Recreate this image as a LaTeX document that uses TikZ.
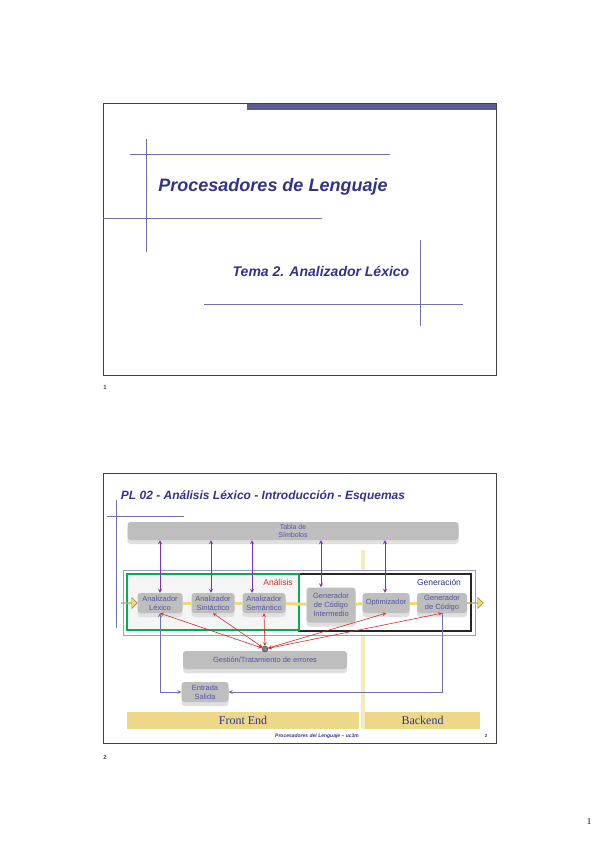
\documentclass[tikz,border=0pt]{standalone}
\usepackage{fontspec}
\setmainfont{Liberation Sans}
\newfontfamily\serifbar{Liberation Serif}
\usetikzlibrary{arrows, shapes.arrows, shadows}
\definecolor{slide}{RGB}{51,51,140}
\definecolor{lineas}{RGB}{112,112,176}
\definecolor{barra}{RGB}{92,92,142}
\definecolor{boxgray}{RGB}{190,190,190}
\definecolor{boxtext}{RGB}{84,84,160}
\definecolor{violeta}{RGB}{120,50,180}
\definecolor{flecha}{RGB}{240,216,120}
\definecolor{crema}{RGB}{236,216,136}
\definecolor{rojo}{RGB}{220,40,40}
\definecolor{verde}{RGB}{0,176,80}
\tikzstyle{arrow} = [thick,->,>=stealth]

\begin{document}
\begin{tikzpicture}
        [
            x=1pt, y=-1pt,
            frame/.style={draw=black!75, line width=1pt},
            decoline/.style={draw=lineas, line width=0.9pt},
            proc/.style={rectangle, rounded corners=3pt, fill=boxgray, text=boxtext, align=center,
                font=\fontsize{7.5}{8.8}\selectfont, inner sep=1pt,
                drop shadow={shadow xshift=0pt, shadow yshift=-4pt, fill=boxgray!50, opacity=1}},
            tsim/.style={violeta, thick, <->, >=stealth},
            errarrow/.style={rojo, line width=0.6pt, <->, >=stealth},
            esarrow/.style={lineas, line width=0.8pt, ->, >=stealth},
            flowline/.style={flecha, line width=3pt},
            flowarrow/.style={single arrow, fill=flecha, draw=flecha!60!black, thin,
                minimum height=16, minimum width=11, single arrow head extend=2pt, inner sep=0pt},
            bandlabel/.style={fill=crema, text=slide, font=\serifbar\fontsize{12}{14}\selectfont,
                minimum height=17, inner sep=0pt},
        ]

    \fill[white] (0,0) rectangle (599,848);
    \useasboundingbox (0,0) rectangle (599,848);

    % slide 1
    \draw[frame] (103,104) rectangle (496,375);
    \fill[barra] (247,104) rectangle (496,110);
    \draw[decoline] (130,154) -- (390,154);
    \draw[decoline] (146,139) -- (146,252);
    \draw[decoline] (103,218) -- (322,218);
    \draw[decoline] (420,240) -- (420,326);
    \draw[decoline] (204,304) -- (463,304);
    \node[text=slide, font=\bfseries\itshape\fontsize{18}{20}\selectfont] (titulo) at (273,187) {Procesadores de Lenguaje};
    \node[text=slide, font=\bfseries\itshape\fontsize{14}{16}\selectfont] (tema) at (321,271) {Tema 2. Analizador Léxico};
    \node[font=\bfseries\fontsize{6}{7}\selectfont, text=black!70] (num1) at (105,387) {1};

    % slide 2
    \draw[frame] (103,473) rectangle (496,743);
    \draw[decoline] (116,500) -- (116,628);
    \draw[decoline] (107,516) -- (184,516);
    \node[text=slide, font=\bfseries\itshape\fontsize{12}{14}\selectfont] (titulo2) at (263,496) {PL 02 - Análisis Léxico - Introducción - Esquemas};

    \fill[crema!55] (361,550) rectangle (365,729);
    \draw[lineas!70, fill=white] (123,570) rectangle (475,635);
    \draw[black!85, line width=1.8pt] (299,574) rectangle (471,631);
    \draw[verde, line width=1.8pt, fill=black!4] (127,574) rectangle (299,630);
    \node[text=rojo, font=\fontsize{8.5}{10}\selectfont] (analisis) at (278,582) {Análisis};
    \node[fill=white, text=slide, font=\fontsize{8.5}{10}\selectfont, inner sep=1.5pt] (generacion) at (439,582) {Generación};

    \node[proc, minimum width=331, minimum height=18, font=\fontsize{7}{8}\selectfont] (tabla) at (293,531) {Tabla de\\Símbolos};

    \node[proc, minimum width=45, minimum height=20] (lex) at (160,603) {Analizador\\Léxico};
    \node[proc, minimum width=43, minimum height=20] (sin) at (213,603) {Analizador\\Sintáctico};
    \node[proc, minimum width=43, minimum height=20] (sem) at (264,603) {Analizador\\Semántico};
    \node[proc, minimum width=49, minimum height=35] (inter) at (331,605) {Generador\\de Código\\Intermedio};
    \node[proc, minimum width=47, minimum height=20] (opt) at (386,603) {Optimizador};
    \node[proc, minimum width=50, minimum height=20] (gc) at (442,603) {Generador\\de Código};

    \node[flowarrow] (in) at (129,603) {};
    \node[flowarrow] (out) at (475,603) {};
    \draw[flowline] (lex) -- (sin);
    \draw[flowline] (sin) -- (sem);
    \draw[flowline] (sem) -- (inter);
    \draw[flowline] (inter) -- (opt);
    \draw[flowline] (opt) -- (gc);

    \foreach \n/\dx in {lex/0, sin/-2, sem/-12, inter/-10, opt/-1}
        \draw[tsim] ([xshift=\dx pt]\n.north |- tabla.south) -- ([xshift=\dx pt]\n.north);

    \node[proc, minimum width=164, minimum height=18] (gestion) at (265,660) {Gestión/Tratamiento de errores};
    \node[circle, fill=gray, draw=gray!50!black, inner sep=0pt, minimum size=6] (err) at (265,649) {};
    \foreach \n in {lex,sin,sem,opt,gc}
        \draw[errarrow] (err) -- (\n.south);

    \node[proc, minimum width=47, minimum height=20] (es) at (205,692) {Entrada\\Salida};
    \draw[esarrow, <->] (lex.south) |- (es.west);
    \draw[esarrow] (gc.south) |- (es.east);

    \node[bandlabel, minimum width=232] (front) at (243,720.5) {Front End};
    \node[bandlabel, minimum width=115] (back) at (422.5,720.5) {Backend};

    \node[text=slide, font=\bfseries\itshape\fontsize{5}{6}\selectfont] (pie) at (317,736) {Procesadores del Lenguaje -- uc3m};
    \node[text=slide, font=\bfseries\fontsize{4.5}{5}\selectfont] (pag2) at (486,736) {2};
    \node[font=\bfseries\fontsize{6}{7}\selectfont, text=black!70] (num2) at (105,757) {2};
    \node[font=\serifbar\fontsize{9}{10}\selectfont] (hoja) at (589,822) {1};
\end{tikzpicture}
\end{document}
